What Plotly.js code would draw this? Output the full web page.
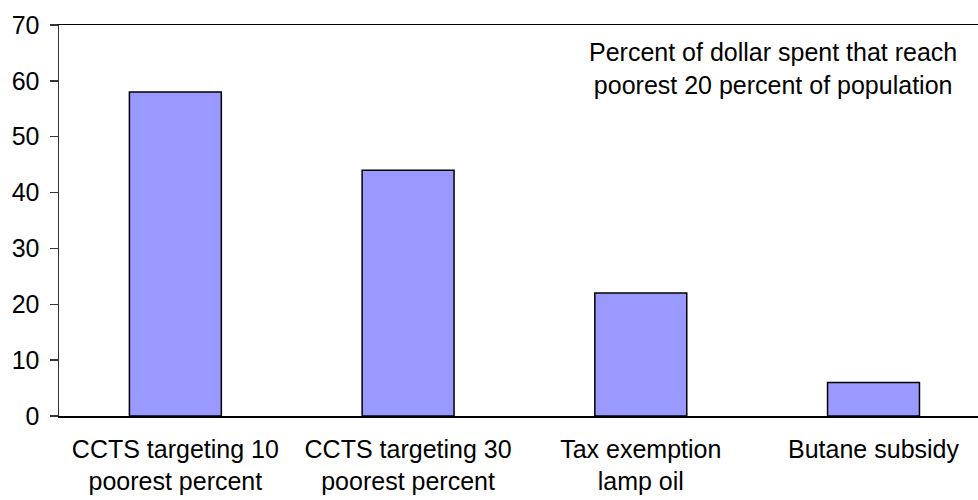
<!DOCTYPE html>
<html>
<head>
<meta charset="utf-8">
<script src="https://cdn.plot.ly/plotly-3.0.1.min.js"></script>
<style>html,body{margin:0;padding:0;background:#fff;}#chart{width:978px;height:500px;}</style>
</head>
<body>
<div id="chart"></div>
<script>
const categories = [
  "CCTS targeting 10<br>poorest percent",
  "CCTS targeting 30<br>poorest percent",
  "Tax exemption<br>lamp oil",
  "Butane subsidy"
];
const values = [58, 44, 22, 6];
const yTicks = [0, 10, 20, 30, 40, 50, 60, 70];
const noteText = "Percent of dollar spent that reach<br>poorest 20 percent of population";

const trace = {
  type: "bar",
  x: [0, 1, 2, 3],
  y: values,
  marker: {color: "#9999FF", line: {color: "#000000", width: 1.5}},
  hoverinfo: "skip"
};

const layout = {
  width: 978, height: 500,
  margin: {l: 59, r: 0, t: 25, b: 84, pad: 0},
  paper_bgcolor: "#ffffff", plot_bgcolor: "#ffffff",
  font: {family: "Liberation Sans, Arial, sans-serif", size: 25, color: "#000"},
  bargap: 0.605,
  showlegend: false,
  xaxis: {
    range: [-0.5, 3.449],
    tickmode: "array",
    tickvals: [0, 1, 2, 3],
    ticktext: categories,
    showline: true, linecolor: "#000", linewidth: 1.5, mirror: true,
    ticks: "", showgrid: false, zeroline: false,
    ticklabelstandoff: 10,
    tickfont: {size: 25, color: "#000"}
  },
  yaxis: {
    range: [0, 70],
    tickmode: "array",
    tickvals: yTicks,
    ticktext: yTicks.map(String),
    showline: true, linecolor: "#333", linewidth: 1.5,
    ticks: "outside", ticklen: 8, tickwidth: 1.5, tickcolor: "#333",
    showgrid: false, zeroline: false,
    ticklabelstandoff: 5,
    tickfont: {size: 25, color: "#000"}
  },
  annotations: [{
    xref: "paper", yref: "paper",
    x: 0.777, y: 0.972,
    xanchor: "center", yanchor: "top",
    text: noteText, showarrow: false, align: "center",
    font: {size: 25, color: "#000"}
  }]
};

Plotly.newPlot("chart", [trace], layout, {displayModeBar: false, staticPlot: true});
</script>
</body>
</html>
